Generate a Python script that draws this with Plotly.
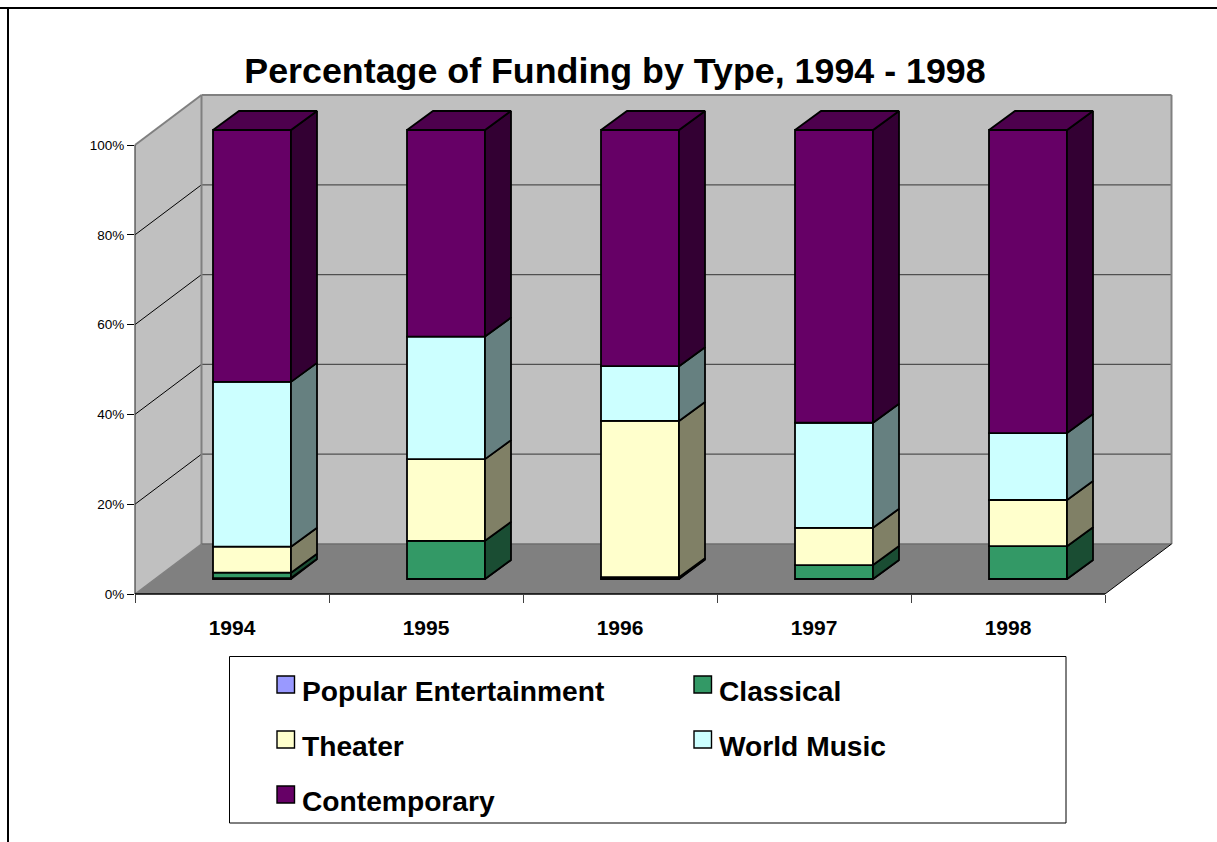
import plotly.graph_objects as go

YEARS = ["1994", "1995", "1996", "1997", "1998"]
TITLE = "Percentage of Funding by Type, 1994 - 1998"
SERIES_NAMES = ["Popular Entertainment", "Classical", "Theater", "World Music", "Contemporary"]
POPULAR = [0.2, 0.0, 0.1, 0.0, 0.0]
CLASSICAL = [1.2, 8.5, 0.3, 3.1, 7.3]
THEATER = [5.8, 18.2, 34.8, 8.3, 10.3]
WORLD = [36.7, 27.3, 12.2, 23.4, 14.9]
CONTEMPORARY = [56.1, 46.0, 52.6, 65.2, 67.5]
Y_TICKS = [0, 20, 40, 60, 80, 100]

FRONT = ["#9999FF", "#339966", "#FFFFCC", "#CCFFFF", "#660066"]
SIDE = ["#4D4D80", "#1A4D33", "#808066", "#668080", "#330033"]
TOP = "#4D004D"
SERIES = [POPULAR, CLASSICAL, THEATER, WORLD, CONTEMPORARY]

# page geometry (pixels)
W, H = 1217, 842
L, R, T, B = 135, 1170, 95, 594
CAT_PX = 194.0
PCT_PX = 4.49
xmax = (R - L) / CAT_PX
ymax = (B - T) / PCT_PX
px_x = lambda p: p / CAT_PX
px_y = lambda p: p / PCT_PX
DX, DY = px_x(66.5), px_y(50)           # wall depth
BDX, BDY = px_x(20), px_y(15)           # bar's front offset
SDX, SDY = px_x(26), px_y(19)           # bar's depth
BW = px_x(78)
paper_x = lambda p: (p - L) / (R - L)
paper_y = lambda p: (B - p) / (B - T)
# axis units to paper fractions, so that edge lines are not clipped by the plot area
ax_x = lambda v: v / xmax
ax_y = lambda v: v / ymax
LW = 1.8

fig = go.Figure()

centers = [i + 0.5 + BDX for i in range(len(YEARS))]
cum = [0.0] * len(YEARS)
for s, vals in enumerate(SERIES):
    base = [c + BDY for c in cum]
    fig.add_trace(go.Bar(x=centers, y=vals, base=base, width=BW, name=SERIES_NAMES[s],
                         marker=dict(color=FRONT[s], line=dict(color="#000000", width=LW)),
                         showlegend=False))
    xs, ys = [], []
    for i, v in enumerate(vals):
        xr = centers[i] + BW / 2
        b = base[i]
        xs += [xr, xr + SDX, xr + SDX, xr, xr, None]
        ys += [b, b + SDY, b + v + SDY, b + v, b, None]
    fig.add_trace(go.Scatter(x=xs, y=ys, mode="lines", fill="toself", fillcolor=SIDE[s],
                             line=dict(color="#000000", width=LW), showlegend=False,
                             hoverinfo="skip", connectgaps=False))
    cum = [c + v for c, v in zip(cum, vals)]

xs, ys = [], []
for i, c in enumerate(cum):
    xl, xr, t = centers[i] - BW / 2, centers[i] + BW / 2, c + BDY
    xs += [xl, xr, xr + SDX, xl + SDX, xl, None]
    ys += [t, t, t + SDY, t + SDY, t, None]
fig.add_trace(go.Scatter(x=xs, y=ys, mode="lines", fill="toself", fillcolor=TOP,
                         line=dict(color="#000000", width=LW), showlegend=False, hoverinfo="skip"))

def poly(pts):
    return "M " + " L ".join(f"{ax_x(x)},{ax_y(y)}" for x, y in pts) + " Z"

shapes = []
n = len(YEARS)
GREY = "#808080"
# walls and floor
shapes.append(dict(type="path", layer="below", xref="paper", yref="paper", fillcolor="#C0C0C0", line=dict(width=0),
                   path=poly([(0, 0), (DX, DY), (DX, 100 + DY), (0, 100)])))
shapes.append(dict(type="path", layer="below", xref="paper", yref="paper", fillcolor="#C0C0C0", line=dict(width=0),
                   path=poly([(DX, DY), (n + DX, DY), (n + DX, 100 + DY), (DX, 100 + DY)])))
shapes.append(dict(type="path", layer="below", xref="paper", yref="paper", fillcolor="#808080", line=dict(width=0),
                   path=poly([(0, 0), (n, 0), (n + DX, DY), (DX, DY)])))

def seg(x0, y0, x1, y1, color, width):
    shapes.append(dict(type="line", layer="below", xref="paper", yref="paper",
                       x0=ax_x(x0), y0=ax_y(y0), x1=ax_x(x1), y1=ax_y(y1),
                       line=dict(color=color, width=width)))

for v in Y_TICKS[1:-1]:
    seg(0, v, DX, v + DY, "#000000", 1)
    seg(DX, v + DY, n + DX, v + DY, "#505050", 1.2)
seg(0, 100, DX, 100 + DY, GREY, 2)
seg(DX, 100 + DY, n + DX, 100 + DY, GREY, 2)
seg(DX, DY, DX, 100 + DY, GREY, 2)
seg(n + DX, DY, n + DX, 100 + DY, GREY, 2)
seg(DX, DY, n + DX, DY, "#6E6E6E", 1.5)
seg(0, 0, DX, DY, GREY, 1.5)
seg(n, 0, n + DX, DY, "#000000", 1)
seg(0, 0, 0, 100, "#404040", 1.2)
seg(0, 0, n, 0, "#000000", 1.6)

# frame of the page
def pline(x0, y0, x1, y1, width=2):
    shapes.append(dict(type="line", xref="paper", yref="paper", x0=paper_x(x0), x1=paper_x(x1),
                       y0=paper_y(y0), y1=paper_y(y1), line=dict(color="#000000", width=width)))
pline(0, 8, W, 8)
pline(8, 8, 8, H)

# legend box
shapes.append(dict(type="rect", xref="paper", yref="paper", x0=paper_x(229.5), x1=paper_x(1066),
                   y0=paper_y(656.5), y1=paper_y(823), line=dict(color="#000000", width=1), fillcolor="#FFFFFF"))
annotations = []
LEG_X = [277, 694]
LEG_TEXT_X = [299.5, 716.5]
LEG_Y = [676, 731, 786]
for s, name in enumerate(SERIES_NAMES):
    x0 = LEG_X[s % 2]
    y0 = LEG_Y[s // 2]
    shapes.append(dict(type="rect", xref="paper", yref="paper", x0=paper_x(x0), x1=paper_x(x0 + 17.5),
                       y0=paper_y(y0), y1=paper_y(y0 + 17), fillcolor=FRONT[s],
                       line=dict(color="#000000", width=1.4)))
    annotations.append(dict(xref="paper", yref="paper", x=paper_x(LEG_TEXT_X[s % 2]), y=paper_y(y0 + 14.5),
                            xanchor="left", yanchor="middle", text=f"<b>{name}</b>", showarrow=False,
                            font=dict(family="Liberation Sans", size=28.2, color="#000000")))

fig.update_layout(
    width=W, height=H, autosize=False,
    margin=dict(l=L, r=W - R, t=T, b=H - B, pad=0),
    paper_bgcolor="#FFFFFF", plot_bgcolor="rgba(0,0,0,0)",
    barmode="overlay", showlegend=False,
    font=dict(family="Liberation Sans", color="#000000"),
    title=dict(text=f"<b>{TITLE}</b>", x=paper_x(615), xref="paper", xanchor="center",
               y=1 - 70 / H, yref="container", yanchor="middle",
               font=dict(family="Liberation Sans", size=35.8, color="#000000")),
    shapes=shapes, annotations=annotations,
    xaxis=dict(range=[0, xmax], showgrid=False, zeroline=False, showline=False,
               tickmode="array", tickvals=[i + 0.5 for i in range(n)],
               ticktext=[f"<b>{y}</b>" for y in YEARS],
               ticks="outside", ticklen=15, tickcolor="rgba(0,0,0,0)", tickwidth=1,
               tickfont=dict(family="Liberation Sans", size=21, color="#000000"),
               minor=dict(tickmode="array", tickvals=list(range(n + 1)), ticks="outside", ticklen=8,
                          tickcolor="#404040", tickwidth=1, showgrid=False)),
    yaxis=dict(range=[0, ymax], showgrid=False, zeroline=False, showline=False,
               tickmode="array", tickvals=Y_TICKS, ticktext=[f"{v}%" for v in Y_TICKS],
               ticks="outside", ticklen=7, tickcolor="#000000", tickwidth=1,
               tickfont=dict(family="Liberation Sans", size=13.5, color="#000000")),
)

fig.write_html("out.html", config=dict(displayModeBar=False),
               post_script="document.body.style.margin='0';document.body.style.overflow='hidden';")
